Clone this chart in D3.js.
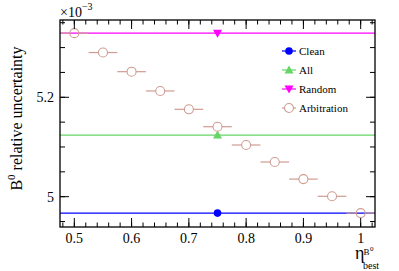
<!DOCTYPE html>
<html>
<head>
<meta charset="utf-8">
<script src="https://cdn.jsdelivr.net/npm/d3@7"></script>
<style>
body { margin: 0; background: #fff; }
svg { display: block; }
svg text { font-family: "Liberation Serif", "DejaVu Serif", "Times New Roman", serif; }
</style>
</head>
<body>
<div id="chart"></div>
<script>
// values in units of 1e-3
var arbEta = [0.5, 0.55, 0.6, 0.65, 0.7, 0.75, 0.8, 0.85, 0.9, 0.95, 1.0];
var arbVals = [5.329, 5.290, 5.2515, 5.2127, 5.1758, 5.1408, 5.104, 5.0698, 5.0354, 5.0008, 4.967];
var arbHalfWidth = 0.025;
var flatNames = ["Clean", "All", "Random"];
var flatVals = [4.967, 5.124, 5.329];
var flatEta = 0.75;
var xTicks = [0.5, 0.6, 0.7, 0.8, 0.9, 1];
var yTicks = [5, 5.2];
var legendNames = ["Clean", "All", "Random", "Arbitration"];

var colors = {Clean: "#0000ff", All: "#66d466", Random: "#ff00ff", Arbitration: "#cf9c92"};

var margin = {top: 20, right: 24, bottom: 44, left: 60},
    width = 399 - margin.left - margin.right,
    height = 271 - margin.top - margin.bottom;

var x = d3.scaleLinear().domain([0.475, 1.025]).range([0, width]);
var y = d3.scaleLinear().domain([4.939, 5.3555]).range([height, 0]);

var svg = d3.select("#chart").append("svg")
    .attr("width", 399)
    .attr("height", 271)
  .append("g")
    .attr("transform", "translate(" + margin.left + "," + margin.top + ")");

svg.append("defs").append("clipPath").attr("id", "clip")
  .append("rect").attr("width", width).attr("height", height);

var plot = svg.append("g").attr("clip-path", "url(#clip)");

// flat lines for Clean / All / Random
flatNames.forEach(function(n, i) {
  plot.append("line")
      .attr("x1", 0).attr("x2", width)
      .attr("y1", y(flatVals[i])).attr("y2", y(flatVals[i]))
      .attr("stroke", colors[n]).attr("stroke-width", 1.2);
});

// arbitration points with horizontal error bars
var r = 4.5;
arbEta.forEach(function(e, i) {
  var cx = x(e), cy = y(arbVals[i]);
  plot.append("line")
      .attr("x1", x(e - arbHalfWidth)).attr("x2", cx - r)
      .attr("y1", cy).attr("y2", cy)
      .attr("stroke", colors.Arbitration).attr("stroke-width", 1.2);
  plot.append("line")
      .attr("x1", cx + r).attr("x2", x(e + arbHalfWidth))
      .attr("y1", cy).attr("y2", cy)
      .attr("stroke", colors.Arbitration).attr("stroke-width", 1.2);
  plot.append("circle")
      .attr("cx", cx).attr("cy", cy).attr("r", r)
      .attr("fill", "none")
      .attr("stroke", colors.Arbitration).attr("stroke-width", 1.1);
});

// markers for flat series
function marker(g, n, cx, cy) {
  if (n == "Clean") {
    g.append("circle").attr("cx", cx).attr("cy", cy).attr("r", 3.8).attr("fill", colors[n]);
  } else if (n == "All") {
    g.append("path").attr("transform", "translate(" + cx + "," + cy + ")")
        .attr("d", "M0,-4.5L4.5,3.5L-4.5,3.5Z").attr("fill", colors[n]);
  } else if (n == "Random") {
    g.append("path").attr("transform", "translate(" + cx + "," + cy + ")")
        .attr("d", "M0,4.5L4.5,-3.5L-4.5,-3.5Z").attr("fill", colors[n]);
  } else {
    g.append("circle").attr("cx", cx).attr("cy", cy).attr("r", r)
        .attr("fill", "#fff").attr("stroke", colors[n]).attr("stroke-width", 1.1);
  }
}
flatNames.forEach(function(n, i) {
  marker(plot, n, x(flatEta), y(flatVals[i]));
});

// axes (ROOT style: ticks on all four sides, inward)
var xMinor = d3.range(0.48, 1.025, 0.02);
var yMinor = d3.range(4.95, 5.36, 0.05);

function addX(g, ticks, len, dir) {
  g.selectAll(null).data(ticks).enter().append("line")
      .attr("x1", function(d) { return x(d); }).attr("x2", function(d) { return x(d); })
      .attr("y1", 0).attr("y2", dir * len)
      .attr("stroke", "#000").attr("stroke-width", 1);
}
function addY(g, ticks, len, dir) {
  g.selectAll(null).data(ticks).enter().append("line")
      .attr("y1", function(d) { return y(d); }).attr("y2", function(d) { return y(d); })
      .attr("x1", 0).attr("x2", dir * len)
      .attr("stroke", "#000").attr("stroke-width", 1);
}

var bottomAx = svg.append("g").attr("transform", "translate(0," + height + ")");
addX(bottomAx, xMinor, 4.5, -1);
addX(bottomAx, xTicks, 9, -1);
bottomAx.selectAll("text").data(xTicks).enter().append("text")
    .attr("x", function(d) { return x(d); }).attr("y", 16)
    .attr("text-anchor", "middle").attr("font-size", 14)
    .text(function(d) { return d3.format("")(d); });

var topAx = svg.append("g");
addX(topAx, xMinor, 4.5, 1);
addX(topAx, xTicks, 9, 1);

var leftAx = svg.append("g");
addY(leftAx, yMinor, 5, 1);
addY(leftAx, yTicks, 9, 1);
leftAx.selectAll("text").data(yTicks).enter().append("text")
    .attr("x", -6).attr("y", function(d) { return y(d) + 5; })
    .attr("text-anchor", "end").attr("font-size", 14)
    .text(function(d) { return d3.format("")(d); });

var rightAx = svg.append("g").attr("transform", "translate(" + width + ",0)");
addY(rightAx, yMinor, 5, -1);
addY(rightAx, yTicks, 9, -1);

svg.append("rect").attr("width", width).attr("height", height)
    .attr("fill", "none").attr("stroke", "#000").attr("stroke-width", 1.3);

// exponent
var ex = svg.append("text").attr("x", 0).attr("y", -3).attr("font-size", 14);
ex.append("tspan").text("\u00d710");
ex.append("tspan").attr("dy", -7).attr("font-size", 10).text("\u22123");

// y label
var yl = svg.append("text")
    .attr("transform", "translate(-38," + (height / 2 - 5) + ") rotate(-90)")
    .attr("text-anchor", "middle").attr("font-size", 16);
yl.append("tspan").text("B");
yl.append("tspan").attr("dy", -7).attr("font-size", 11).text("0");
yl.append("tspan").attr("dy", 7).text(" relative uncertainty");

// x label
svg.append("text").attr("x", width - 20).attr("y", height + 32).attr("font-size", 18).text("\u03b7");
svg.append("text").attr("x", width - 11.5).attr("y", height + 28).attr("font-size", 9).text("B");
svg.append("text").attr("x", width - 5).attr("y", height + 24).attr("font-size", 7).text("0");
svg.append("text").attr("x", width - 12).attr("y", height + 42).attr("font-size", 10).text("best");

// legend
var leg = svg.append("g").attr("transform", "translate(" + (289 - margin.left) + "," + (51 - margin.top) + ")");
legendNames.forEach(function(n, i) {
  var gy = i * 19;
  leg.append("line").attr("x1", -7).attr("x2", 7).attr("y1", gy).attr("y2", gy)
      .attr("stroke", colors[n]).attr("stroke-width", 1.2);
  marker(leg, n, 0, gy);
  leg.append("text").attr("x", 10).attr("y", gy + 4).attr("font-size", 11).text(n);
});
</script>
</body>
</html>
